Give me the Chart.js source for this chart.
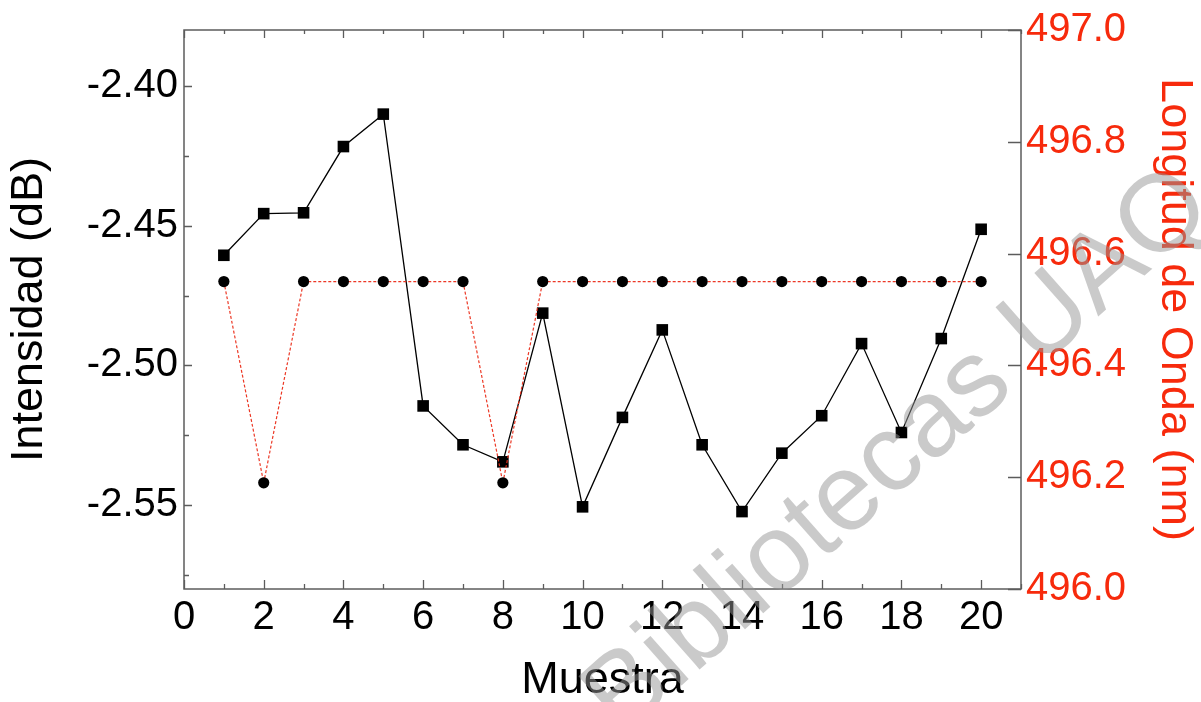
<!DOCTYPE html>
<html>
<head>
<meta charset="utf-8">
<script src="https://cdn.jsdelivr.net/npm/chart.js@4/dist/chart.umd.min.js"></script>
<style>
  html, body { margin: 0; padding: 0; background: #fff; overflow: hidden; }
  #wrap { width: 1201px; height: 702px; }
</style>
</head>
<body>
<div id="wrap"><canvas id="c" width="1201" height="702"></canvas></div>
<script>
// Muestras 1..20: intensidad (dB) y longitud de onda (nm)
const muestras = [1, 2, 3, 4, 5, 6, 7, 8, 9, 10, 11, 12, 13, 14, 15, 16, 17, 18, 19, 20];
const intensidad = [-2.4606, -2.4457, -2.4454, -2.4217, -2.4101, -2.5145, -2.5284, -2.5345, -2.4813, -2.5506,
                    -2.5186, -2.4873, -2.5284, -2.5523, -2.5314, -2.5180, -2.4922, -2.5240, -2.4904, -2.4513];
const longitudOnda = [496.55, 496.19, 496.55, 496.55, 496.55, 496.55, 496.55, 496.19, 496.55, 496.55,
                      496.55, 496.55, 496.55, 496.55, 496.55, 496.55, 496.55, 496.55, 496.55, 496.55];

const ticksX = [0, 2, 4, 6, 8, 10, 12, 14, 16, 18, 20];
const ticksIntensidad = [-2.55, -2.50, -2.45, -2.40];
const ticksOnda = [496.0, 496.2, 496.4, 496.6, 496.8, 497.0];

const FONT = '"Liberation Sans", Arial, Helvetica, sans-serif';
const ROJO = '#f72a0c';

// midpoints between major ticks, plus one step past each end if still inside the range
function minorTicks(major, min, max) {
  const out = [];
  for (let i = 0; i < major.length - 1; i++) out.push((major[i] + major[i + 1]) / 2);
  const step = major[1] - major[0];
  const lo = major[0] - step / 2, hi = major[major.length - 1] + step / 2;
  if (lo >= min - 1e-9) out.unshift(lo);
  if (hi <= max + 1e-9) out.push(hi);
  return out;
}

// plot frame with inward tick marks on all four sides
const framePlugin = {
  id: 'frame',
  beforeDatasetsDraw(chart) {
    const { ctx, chartArea: a, scales } = chart;
    ctx.save();
    ctx.strokeStyle = '#5c5c5c';
    ctx.lineWidth = 1.5;
    ctx.strokeRect(a.left, a.top, a.right - a.left, a.bottom - a.top);

    ctx.beginPath();
    const sx = scales.x;
    ticksX.forEach(v => {
      const p = Math.round(sx.getPixelForValue(v)) + 0.5;
      ctx.moveTo(p, a.bottom); ctx.lineTo(p, a.bottom - 9);
      ctx.moveTo(p, a.top); ctx.lineTo(p, a.top + 8);
    });
    minorTicks(ticksX, sx.min, sx.max).forEach(v => {
      const p = Math.round(sx.getPixelForValue(v)) + 0.5;
      ctx.moveTo(p, a.bottom); ctx.lineTo(p, a.bottom - 5);
      ctx.moveTo(p, a.top); ctx.lineTo(p, a.top + 4);
    });
    const sy = scales.y;
    ticksIntensidad.forEach(v => {
      const p = Math.round(sy.getPixelForValue(v)) + 0.5;
      ctx.moveTo(a.left, p); ctx.lineTo(a.left + 8, p);
    });
    minorTicks(ticksIntensidad, sy.min, sy.max).forEach(v => {
      const p = Math.round(sy.getPixelForValue(v)) + 0.5;
      ctx.moveTo(a.left, p); ctx.lineTo(a.left + 5, p);
    });
    const sy2 = scales.y2;
    ticksOnda.forEach(v => {
      const p = Math.round(sy2.getPixelForValue(v)) + 0.5;
      ctx.moveTo(a.right, p); ctx.lineTo(a.right - 13, p);
    });
    ctx.lineWidth = 1.3;
    ctx.stroke();
    ctx.restore();
  }
};

// library watermark across the figure
const watermarkPlugin = {
  id: 'watermark',
  afterDraw(chart) {
    const { ctx } = chart;
    ctx.save();
    ctx.translate(1196, 190);
    ctx.rotate(-41.5 * Math.PI / 180);
    ctx.font = '109px ' + FONT;
    ctx.fillStyle = 'rgba(150,150,150,0.5)';
    ctx.textAlign = 'right';
    ctx.textBaseline = 'middle';
    ctx.fillText('Bibliotecas UAQ', 0, 0);
    ctx.restore();
  }
};

const setTicks = arr => scale => { scale.ticks = arr.map(v => ({ value: v })); };

new Chart(document.getElementById('c'), {
  type: 'line',
  data: {
    datasets: [
      {
        label: 'Intensidad (dB)',
        data: muestras.map((m, i) => ({ x: m, y: intensidad[i] })),
        yAxisID: 'y',
        borderColor: '#000',
        backgroundColor: '#000',
        borderWidth: 1.3,
        pointStyle: 'rect',
        pointRadius: 8.2,
        pointBorderWidth: 0,
        pointBackgroundColor: '#000',
        tension: 0,
        order: 2
      },
      {
        label: 'Longitud de Onda (nm)',
        data: muestras.map((m, i) => ({ x: m, y: longitudOnda[i] })),
        yAxisID: 'y2',
        borderColor: 'rgba(235,45,25,0.95)',
        borderWidth: 1.2,
        borderDash: [3, 2],
        pointStyle: 'circle',
        pointRadius: 5.6,
        pointBorderWidth: 0,
        pointBackgroundColor: '#000',
        tension: 0,
        order: 1
      }
    ]
  },
  options: {
    responsive: false,
    animation: false,
    devicePixelRatio: 1,
    layout: { padding: { top: 29, left: 0, right: 0, bottom: 0 } },
    plugins: { legend: { display: false }, tooltip: { enabled: false } },
    scales: {
      x: {
        type: 'linear',
        position: 'bottom',
        min: 0,
        max: 21,
        afterBuildTicks: setTicks(ticksX),
        afterFit: s => { s.height = 113; },
        grid: { display: false, drawTicks: false },
        border: { display: false },
        ticks: {
          font: { family: FONT, size: 40 },
          color: '#000',
          padding: 5,
          autoSkip: false,
          maxRotation: 0,
          callback: v => String(v)
        },
        title: {
          display: true,
          text: 'Muestra',
          color: '#000',
          font: { family: FONT, size: 45, lineHeight: 0.9 },
          padding: { top: 0, bottom: 1 }
        }
      },
      y: {
        type: 'linear',
        position: 'left',
        min: -2.58,
        max: -2.38,
        afterBuildTicks: setTicks(ticksIntensidad),
        afterFit: s => { s.width = 184; },
        grid: { display: false, drawTicks: false },
        border: { display: false },
        ticks: {
          font: { family: FONT, size: 40 },
          color: '#000',
          padding: 6,
          callback: v => v.toFixed(2)
        },
        title: {
          display: true,
          text: 'Intensidad (dB)',
          color: '#000',
          font: { family: FONT, size: 45, lineHeight: 1 },
          padding: { top: 7, bottom: 0 }
        }
      },
      y2: {
        type: 'linear',
        position: 'right',
        min: 496.0,
        max: 497.0,
        afterBuildTicks: setTicks(ticksOnda),
        afterFit: s => { s.width = 180; },
        grid: { display: false, drawTicks: false },
        border: { display: false },
        ticks: {
          font: { family: FONT, size: 40 },
          color: ROJO,
          padding: 5,
          callback: v => v.toFixed(1)
        },
        title: {
          display: true,
          text: 'Longitud de Onda (nm)',
          color: ROJO,
          font: { family: FONT, size: 45, lineHeight: 1 },
          padding: { top: 4, bottom: 0 }
        }
      }
    }
  },
  plugins: [framePlugin, watermarkPlugin]
});
</script>
</body>
</html>
